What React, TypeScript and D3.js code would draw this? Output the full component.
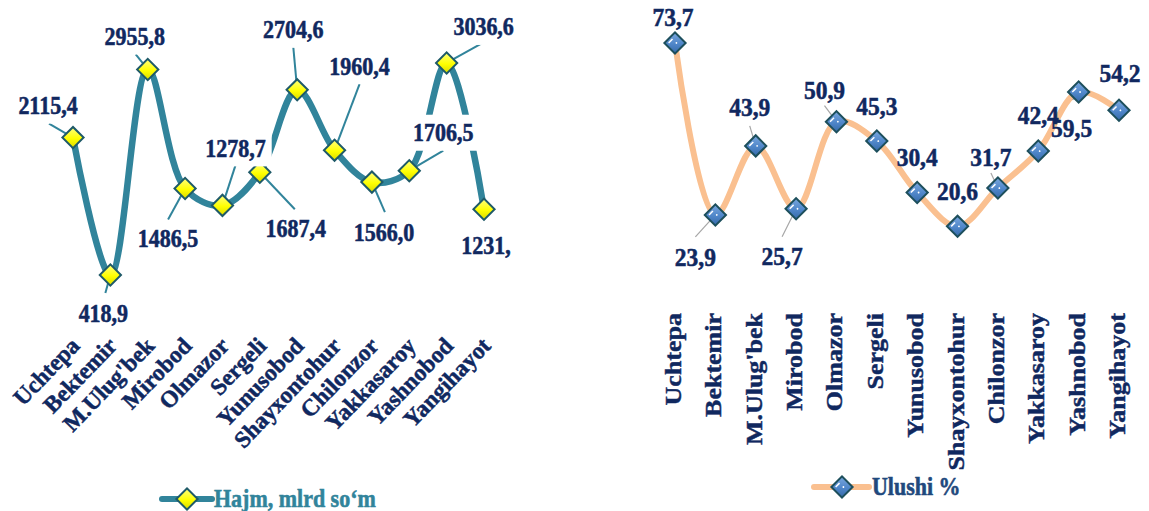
import * as d3 from 'd3';

// Chart data
const categories = [
  'Uchtepa', 'Bektemir', "M.Ulug'bek", 'Mirobod', 'Olmazor', 'Sergeli',
  'Yunusobod', 'Shayxontohur', 'Chilonzor', 'Yakkasaroy', 'Yashnobod', 'Yangihayot',
];
const hajmValues = [2115.4, 418.9, 2955.8, 1486.5, 1278.7, 1687.4, 2704.6, 1960.4, 1566.0, 1706.5, 3036.6, 1231.0];
const hajmLabels = ['2115,4', '418,9', '2955,8', '1486,5', '1278,7', '1687,4', '2704,6', '1960,4', '1566,0', '1706,5', '3036,6', '1231,'];
const ulushValues = [73.7, 23.9, 43.9, 25.7, 50.9, 45.3, 30.4, 20.6, 31.7, 42.4, 59.5, 54.2];
const ulushLabels = ['73,7', '23,9', '43,9', '25,7', '50,9', '45,3', '30,4', '20,6', '31,7', '42,4', '59,5', '54,2'];

// Label placement (offsets from marker), like Excel's manually dragged labels
const hajmLabelOffsets: [number, number][] = [
  [-25, -32], [-7, 38], [-13, -33], [-17, 50], [13, -57], [36, 56],
  [-4, -60], [25, -84], [12, 50], [34, -38], [37, -36], [2, 36],
];
const hajmLeaders: ([number, number] | null)[] = [
  [-24, -14], [-5, 18], [-12, -15], [-17, 31], [13, -40], [35, 37],
  [-4, -44], [25, -66], [13, 30], [34, -20], [36, -20], null,
];
const ulushLabelOffsets: [number, number][] = [
  [-2, -26], [-20, 42], [-6, -39], [-14, 47], [-12, -32], [0, -35],
  [0, -36], [0, -35], [-7, -31], [0, -36], [-7, 36], [1, -37],
];
const ulushLeaders: ([number, number] | null)[] = [
  null, [-20, 22], [-6, -20], [-14, 28], [-12, -16], null,
  null, null, [-7, -15], null, [-6, 8], null,
];

const FONT = "'Liberation Serif', 'Times New Roman', serif";
const NAVY = '#10285f';
const TEAL = '#31849b';
const PEACH = '#fac090';

function Diamond({ x, y, kind }: { x: number; y: number; kind: 'yellow' | 'blue' }) {
  const s = 15;
  return (
    <g transform={`translate(${x},${y}) rotate(45)`}>
      <rect
        x={-s / 2}
        y={-s / 2}
        width={s}
        height={s}
        fill={kind === 'yellow' ? 'url(#yellowGrad)' : 'url(#blueGrad)'}
        stroke={kind === 'yellow' ? '#1f5a68' : '#1d4f5c'}
        strokeWidth={2}
      />
      {kind === 'blue' && (
        <>
          <line x1={-s / 2 + 3} y1={s / 2 - 3} x2={-s / 2 + 3} y2={-1} stroke="#fff" strokeWidth={1.5} />
          <circle cx={1} cy={-1} r={0.9} fill="#fff" />
        </>
      )}
    </g>
  );
}

function digitsWidth(label: string, fs: number) {
  let w = 0;
  for (const ch of label) w += ch === ',' ? 0.25 : 0.5;
  return w * fs;
}

export default function App() {
  // Left chart: volume
  const xL = d3.scalePoint<string>().domain(categories).range([73, 484]);
  const yL = d3.scaleLinear().domain([0, 3500]).range([309, 25.4]);
  // Right chart: share
  const xR = d3.scalePoint<string>().domain(categories).range([675, 1119]);
  const yR = d3.scaleLinear().domain([0, 80]).range([297.5, 21.2]);

  const lineL = d3.line<number>()
    .x((_, i) => xL(categories[i]) ?? 0)
    .y(d => yL(d))
    .curve(d3.curveCatmullRom.alpha(0.5));
  const lineR = d3.line<number>()
    .x((_, i) => xR(categories[i]) ?? 0)
    .y(d => yR(d))
    .curve(d3.curveCatmullRom.alpha(0.5));

  const fsL = 22;
  const fsR = 23.5;
  const bold = { fontFamily: FONT, fontWeight: 'bold' as const, stroke: NAVY, strokeWidth: 0.5 };

  return (
    <div style={{ position: 'absolute', left: 0, top: 0 }}>
      <svg width={1149} height={511} style={{ display: 'block', background: '#fff' }}>
        <defs>
          <linearGradient id="yellowGrad" x1="0" y1="0" x2="1" y2="1">
            <stop offset="0%" stopColor="#ffff80" />
            <stop offset="55%" stopColor="#ffff00" />
            <stop offset="100%" stopColor="#d9d900" />
          </linearGradient>
          <linearGradient id="blueGrad" x1="0" y1="0" x2="1" y2="1">
            <stop offset="0%" stopColor="#7aa7de" />
            <stop offset="55%" stopColor="#4f86c9" />
            <stop offset="100%" stopColor="#3569a8" />
          </linearGradient>
        </defs>

        {/* ---------- Left chart ---------- */}
        <path d={lineL(hajmValues) ?? ''} fill="none" stroke={TEAL} strokeWidth={6.5} strokeLinecap="round" />
        {hajmValues.map((v, i) => {
          const ld = hajmLeaders[i];
          if (!ld) return null;
          const x = xL(categories[i]) ?? 0;
          const y = yL(v);
          return <line key={`ll${i}`} x1={x + ld[0]} y1={y + ld[1]} x2={x} y2={y} stroke={TEAL} strokeWidth={2} />;
        })}
        {hajmValues.map((v, i) => (
          <Diamond key={`ml${i}`} x={xL(categories[i]) ?? 0} y={yL(v)} kind="yellow" />
        ))}
        {hajmValues.map((v, i) => {
          const x = (xL(categories[i]) ?? 0) + hajmLabelOffsets[i][0];
          const y = yL(v) + hajmLabelOffsets[i][1];
          const w = digitsWidth(hajmLabels[i], fsL);
          return (
            <g key={`tl${i}`}>
              <rect x={x - w / 2 - 6} y={y - 18} width={w + 12} height={36} fill="#fff" />
              <text transform={`translate(${x},${y}) scale(1,1.1)`} dy="0.35em" textAnchor="middle"
                fontSize={fsL} fill={NAVY} {...bold}>
                {hajmLabels[i]}
              </text>
            </g>
          );
        })}
        {categories.map(c => {
          const x = (xL(c) ?? 0) + 8;
          const y = 347;
          return (
            <text key={`cl${c}`} transform={`translate(${x},${y}) rotate(-46)`} textAnchor="end"
              fontSize={23.5} fill={NAVY} {...bold}>
              {c}
            </text>
          );
        })}
        {/* legend */}
        <line x1={162} y1={499} x2={212} y2={499} stroke={TEAL} strokeWidth={6} strokeLinecap="round" />
        <Diamond x={187} y={499} kind="yellow" />
        <text transform="translate(214,507) scale(1,1.1)" fontSize={22} {...bold} fill={TEAL} stroke={TEAL}>
          Hajm, mlrd so‘m
        </text>

        {/* ---------- Right chart ---------- */}
        <path d={lineR(ulushValues) ?? ''} fill="none" stroke={PEACH} strokeWidth={6} strokeLinecap="round" />
        {ulushValues.map((v, i) => {
          const ld = ulushLeaders[i];
          if (!ld) return null;
          const x = xR(categories[i]) ?? 0;
          const y = yR(v);
          return <line key={`lr${i}`} x1={x + ld[0]} y1={y + ld[1]} x2={x} y2={y} stroke="#a6a6a6" strokeWidth={1.2} />;
        })}
        {ulushValues.map((v, i) => (
          <Diamond key={`mr${i}`} x={xR(categories[i]) ?? 0} y={yR(v)} kind="blue" />
        ))}
        {ulushValues.map((v, i) => {
          const x = (xR(categories[i]) ?? 0) + ulushLabelOffsets[i][0];
          const y = yR(v) + ulushLabelOffsets[i][1];
          return (
            <text key={`tr${i}`} transform={`translate(${x},${y}) scale(1,1.1)`} dy="0.35em" textAnchor="middle"
              fontSize={fsR} fill={NAVY} {...bold}>
              {ulushLabels[i]}
            </text>
          );
        })}
        {categories.map(c => {
          const x = (xR(c) ?? 0) + 6;
          const y = 313;
          return (
            <text key={`cr${c}`} transform={`translate(${x},${y}) scale(0.86,1) rotate(-90)`} textAnchor="end"
              fontSize={26} fill={NAVY} {...bold}>
              {c}
            </text>
          );
        })}
        {/* legend */}
        <line x1={814} y1={487} x2={869} y2={487} stroke={PEACH} strokeWidth={6} strokeLinecap="round" />
        <Diamond x={842} y={487} kind="blue" />
        <text transform="translate(872,495) scale(1,1.15)" fontSize={22} {...bold} fill="#1f497d" stroke="#1f497d">
          Ulushi %
        </text>
      </svg>
    </div>
  );
}
